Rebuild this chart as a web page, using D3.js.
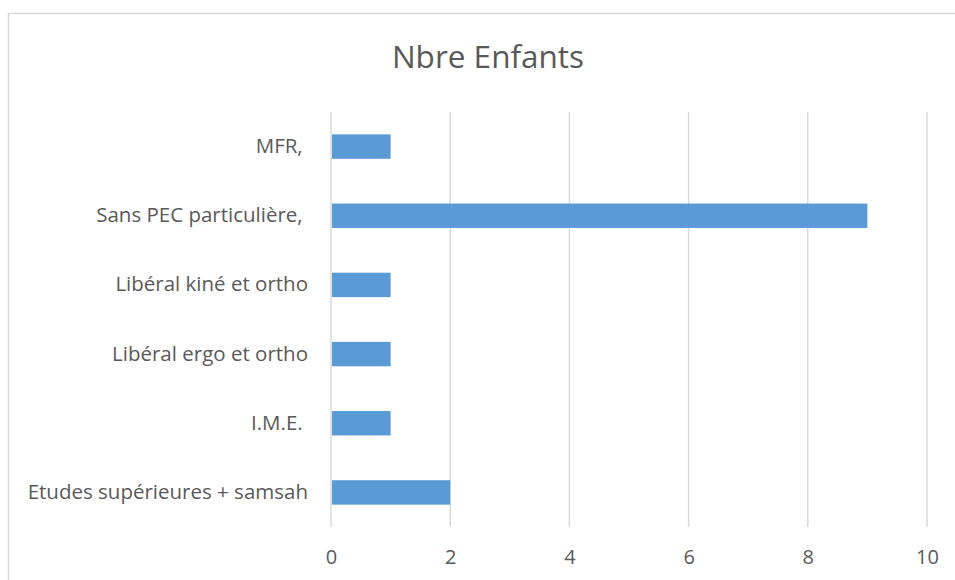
<!DOCTYPE html>
<html>
<head>
<meta charset="utf-8">
<script src="https://cdn.jsdelivr.net/npm/d3@7"></script>
<style>
  body { margin: 0; background: #fff; }
  svg text { font-family: "Open Sans", sans-serif; fill: #595959; white-space: pre; }
</style>
</head>
<body>
<div id="chart"></div>
<script>
// categories top -> bottom as shown
var categories = ["MFR, ", "Sans PEC particulière, ", "Libéral kiné et ortho", "Libéral ergo et ortho", "I.M.E. ", "Etudes supérieures + samsah"];
var values = [1, 9, 1, 1, 1, 2];
var xTicks = [0, 2, 4, 6, 8, 10];
var title = "Nbre Enfants";

var svgWidth = 955,
	svgHeight = 580,
	margin = { top: 112, right: 28, bottom: 53, left: 331 },
	width = svgWidth - margin.left - margin.right,
	height = svgHeight - margin.top - margin.bottom;

var svg = d3.select("#chart").append("svg")
	.attr("width", svgWidth)
	.attr("height", svgHeight);

// chart area frame
svg.append("rect")
	.attr("x", 8.5)
	.attr("y", 13.5)
	.attr("width", 960)
	.attr("height", 600)
	.attr("fill", "none")
	.attr("stroke", "#d9d9d9")
	.attr("stroke-width", 1.5);

svg.append("text")
	.attr("x", 488)
	.attr("y", 68)
	.attr("text-anchor", "middle")
	.attr("font-size", "31.5px")
	.text(title);

var g = svg.append("g")
	.attr("transform", "translate(" + margin.left + "," + margin.top + ")");

var x = d3.scaleLinear()
	.domain([0, 10])
	.range([0, width]);

var y = d3.scaleBand()
	.domain(categories)
	.range([0, height])
	.paddingInner(0.647)
	.paddingOuter(0.3235);

// gridlines
g.append("g")
	.selectAll("line")
	.data(xTicks)
	.enter().append("line")
	.attr("x1", function(d) { return x(d); })
	.attr("x2", function(d) { return x(d); })
	.attr("y1", 0)
	.attr("y2", height)
	.attr("stroke", "#d9d9d9")
	.attr("stroke-width", 1.5);

g.append("g")
	.selectAll("rect")
	.data(values)
	.enter().append("rect")
	.attr("x", x(0) + 1)
	.attr("y", function(d, i) { return y(categories[i]); })
	.attr("width", function(d) { return x(d) - x(0) - 1; })
	.attr("height", y.bandwidth())
	.attr("fill", "#5b9bd5");

// x axis labels
var xAxis = g.append("g")
	.attr("transform", "translate(0," + height + ")")
	.call(d3.axisBottom(x).tickValues(xTicks).tickSize(0).tickPadding(23));
xAxis.select(".domain").remove();
xAxis.selectAll("text")
	.attr("font-size", "20px")
	.attr("font-family", null)
	.attr("fill", null);

// y axis labels
var yAxis = g.append("g")
	.call(d3.axisLeft(y).tickSize(0).tickPadding(23));
yAxis.select(".domain").remove();
yAxis.selectAll("text")
	.attr("font-size", "20.5px")
	.attr("font-family", null)
	.attr("fill", null);
</script>
</body>
</html>
